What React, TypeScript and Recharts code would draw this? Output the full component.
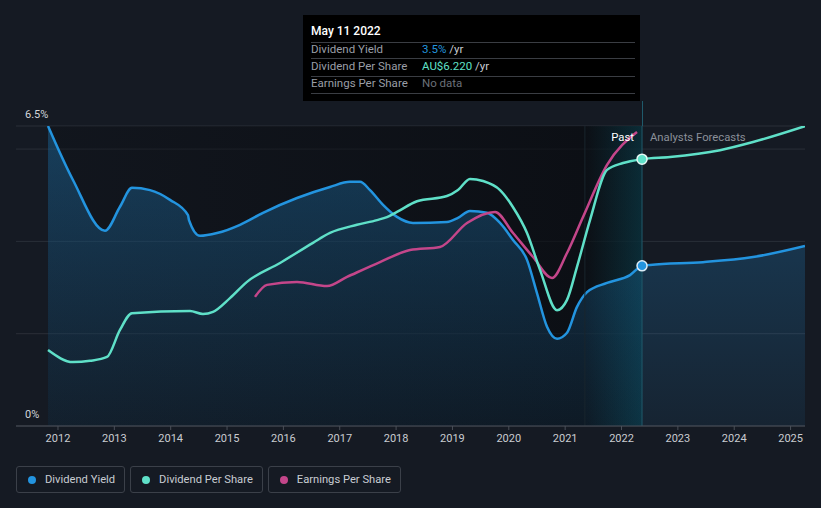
import React from 'react';
import {
  ComposedChart,
  Area,
  Line,
  XAxis,
  YAxis,
  CartesianGrid,
  ReferenceArea,
  ReferenceLine,
} from 'recharts';

// ---- data (time in decimal years) ----
const yieldDates = [
  2011.823, 2012.266, 2012.834, 2013.1, 2013.313, 2013.633, 2013.988, 2014.307, 2014.325, 2014.52,
  2014.822, 2015.23, 2015.638, 2016.241, 2016.827, 2017.182, 2017.359, 2017.537, 2017.768, 2018.016,
  2018.3, 2018.903, 2019.098, 2019.311, 2019.613, 2019.844, 2020.075, 2020.323, 2020.5, 2020.678,
  2020.856, 2021.033, 2021.21, 2021.388, 2021.743, 2022.151, 2022.364, 2022.506, 2023.446, 2024.334,
  2025.256,
];
const yieldValues = [
  6.5, 5.33, 4.23, 4.75, 5.16, 5.11, 4.9, 4.57, 4.46, 4.12,
  4.18, 4.36, 4.62, 4.94, 5.18, 5.29, 5.29, 5.11, 4.79, 4.53,
  4.4, 4.42, 4.51, 4.66, 4.62, 4.4, 4.03, 3.6, 2.88, 2.15,
  1.89, 2.02, 2.58, 2.9, 3.1, 3.27, 3.47, 3.49, 3.55, 3.66,
  3.9,
];

const dpsDates = [
  2011.823, 2012.266, 2012.568, 2012.87, 2013.1, 2013.313, 2014.343, 2014.573, 2014.751, 2015.052,
  2015.354, 2015.94, 2016.525, 2016.827, 2017.306, 2017.661, 2017.838, 2018.016, 2018.371, 2018.903,
  2019.098, 2019.311, 2019.542, 2019.844, 2020.075, 2020.323, 2020.554, 2020.856, 2021.033, 2021.21,
  2021.441, 2021.743, 2022.027, 2022.364, 2022.861, 2023.748, 2024.334, 2025.256,
];
const dpsValues = [
  1.77, 1.49, 1.52, 1.61, 2.24, 2.63, 2.68, 2.61, 2.66, 2.98,
  3.36, 3.8, 4.27, 4.5, 4.69, 4.8, 4.87, 4.99, 5.24, 5.36,
  5.5, 5.76, 5.71, 5.5, 5.1, 4.5, 3.64, 2.7, 2.94, 3.71,
  4.8, 5.97, 6.13, 6.22, 6.27, 6.43, 6.62, 6.99,
];

const epsDates = [
  2015.496, 2015.709, 2016.241, 2016.774, 2017.129, 2017.714, 2018.247, 2018.779, 2019.258, 2019.755,
  2020.075, 2020.43, 2020.767, 2021.033, 2021.317, 2021.743, 2022.275,
];
const epsValues = [
  5.38, 5.88, 6.0, 5.83, 6.21, 6.83, 7.33, 7.46, 8.46, 8.92,
  8.04, 7.04, 6.17, 7.21, 8.71, 10.88, 12.25,
];

const xTicks = [2012, 2013, 2014, 2015, 2016, 2017, 2018, 2019, 2020, 2021, 2022, 2023, 2024, 2025];
const yieldTicks = [0, 2, 4, 6, 6.5];
const yieldLabelValues = [0, 6.5];
const yieldLabelTexts = ['0%', '6.5%'];

const pastStart = 2011.823;
const forecastStart = 2022.364;
const recentStart = 2021.35;

const tooltipDate = 'May 11 2022';
const tooltipRows = [
  { label: 'Dividend Yield', value: '3.5%', color: '#2394df', unit: ' /yr' },
  { label: 'Dividend Per Share', value: 'AU$6.220', color: '#5fe0c8', unit: ' /yr' },
  { label: 'Earnings Per Share', value: 'No data', color: '#6b7079', unit: '' },
];

const legendItems = [
  { label: 'Dividend Yield', color: '#2394df' },
  { label: 'Dividend Per Share', color: '#5fe0c8' },
  { label: 'Earnings Per Share', color: '#c4468a' },
];

const zip = (xs: number[], vs: number[]) => xs.map((x, i) => ({ x, v: vs[i] }));
const yieldData = zip(yieldDates, yieldValues);
const dpsData = zip(dpsDates, dpsValues);
const epsData = zip(epsDates, epsValues);

const FONT = 'Roboto, "Open Sans", "DejaVu Sans", sans-serif';

const makeDot = (fill: string, stroke: string) => (props: any) => {
  const { cx, cy, payload, index } = props;
  if (payload && Math.abs(payload.x - forecastStart) < 1e-6) {
    return <circle key={`d${index}`} cx={cx} cy={cy} r={5} fill={fill} stroke={stroke} strokeWidth={1.5} />;
  }
  return <g key={`d${index}`} />;
};

const makeYLabel = (text: string) => (props: any) => {
  const { viewBox } = props;
  if (!viewBox) return null;
  return (
    <text x={25} y={viewBox.y - 8} fill="#d3d6db" fontSize={11} fontFamily={FONT}>
      {text}
    </text>
  );
};

export default function App() {
  return (
    <div
      style={{
        position: 'absolute',
        left: 0,
        top: 0,
        width: 821,
        height: 508,
        background: '#151a23',
        overflow: 'hidden',
        fontFamily: FONT,
      }}
    >
      <ComposedChart width={821} height={508} margin={{ top: 126, right: 16, left: 16, bottom: 52 }}>
        <defs>
          <linearGradient id="pastGrad" x1="0" y1="0" x2="1" y2="0">
            <stop offset="0%" stopColor="#07090d" stopOpacity={0.25} />
            <stop offset="100%" stopColor="#07090d" stopOpacity={0.68} />
          </linearGradient>
          <linearGradient id="recentGrad" x1="0" y1="0" x2="1" y2="0">
            <stop offset="0%" stopColor="#0a5060" stopOpacity={0} />
            <stop offset="100%" stopColor="#0a5060" stopOpacity={0.45} />
          </linearGradient>
          <linearGradient id="yieldFill" x1="0" y1="0" x2="0" y2="1">
            <stop offset="0%" stopColor="#2394df" stopOpacity={0.32} />
            <stop offset="100%" stopColor="#2394df" stopOpacity={0.08} />
          </linearGradient>
        </defs>
        <XAxis
          dataKey="x"
          type="number"
          domain={[2011.255, 2025.256]}
          ticks={xTicks}
          allowDataOverflow
          height={30}
          tickSize={4}
          tickMargin={4}
          tick={{ fill: '#c9ccd1', fontSize: 11, fontFamily: FONT }}
          tickLine={{ stroke: '#4a4f58' }}
          axisLine={{ stroke: '#4a4f58' }}
        />
        <YAxis yAxisId="yield" type="number" domain={[0, 6.5]} ticks={yieldTicks} hide allowDataOverflow />
        <YAxis yAxisId="dps" type="number" domain={[0, 6.993]} hide allowDataOverflow />
        <YAxis yAxisId="eps" type="number" domain={[0, 12.5]} hide allowDataOverflow />
        <ReferenceArea
          yAxisId="yield"
          x1={pastStart}
          x2={forecastStart}
          y1={0}
          y2={6.5}
          fill="url(#pastGrad)"
          fillOpacity={1}
          stroke="none"
        />
        <ReferenceArea
          yAxisId="yield"
          x1={recentStart}
          x2={forecastStart}
          y1={0}
          y2={6.5}
          fill="url(#recentGrad)"
          fillOpacity={1}
          stroke="none"
        />
        <ReferenceLine yAxisId="yield" x={recentStart} stroke="#18262e" strokeWidth={1} />
        <CartesianGrid yAxisId="yield" vertical={false} stroke="#2a2f38" strokeWidth={1} />
        {yieldLabelValues.map((v, i) => (
          <ReferenceLine
            key={`yl${i}`}
            yAxisId="yield"
            y={v}
            stroke="none"
            label={makeYLabel(yieldLabelTexts[i])}
          />
        ))}
        <ReferenceLine yAxisId="yield" x={forecastStart} stroke="#1f5a6b" strokeWidth={1} />
        <Area
          yAxisId="yield"
          data={yieldData}
          dataKey="v"
          type="monotone"
          stroke="#2394df"
          strokeWidth={2.5}
          fill="url(#yieldFill)"
          fillOpacity={1}
          baseValue={0}
          isAnimationActive={false}
          dot={false}
          activeDot={false}
        />
        <Line
          yAxisId="eps"
          data={epsData}
          dataKey="v"
          type="monotone"
          stroke="#c4468a"
          strokeWidth={2.5}
          dot={false}
          activeDot={false}
          isAnimationActive={false}
        />
        <Line
          yAxisId="dps"
          data={dpsData}
          dataKey="v"
          type="monotone"
          stroke="#5fe0c8"
          strokeWidth={2.5}
          dot={makeDot('#5fe0c8', '#e6f8f5')}
          activeDot={false}
          isAnimationActive={false}
        />
        <Line
          yAxisId="yield"
          data={yieldData}
          dataKey="v"
          type="monotone"
          stroke="none"
          strokeWidth={0}
          dot={makeDot('#2394df', '#dcecf7')}
          activeDot={false}
          isAnimationActive={false}
        />
      </ComposedChart>

      {/* vertical marker continuation above plot */}
      <div style={{ position: 'absolute', left: 642, top: 101, width: 1, height: 25, background: '#1f5a6b' }} />

      {/* past / forecast labels */}
      <div
        style={{
          position: 'absolute',
          right: 821 - 634,
          top: 130,
          fontSize: 11.3,
          lineHeight: '16px',
          color: '#ffffff',
          whiteSpace: 'nowrap',
        }}
      >
        Past
      </div>
      <div
        style={{
          position: 'absolute',
          left: 650,
          top: 130,
          fontSize: 11.3,
          lineHeight: '16px',
          color: '#8b9099',
          whiteSpace: 'nowrap',
        }}
      >
        Analysts Forecasts
      </div>

      {/* tooltip box */}
      <div
        style={{
          position: 'absolute',
          left: 303,
          top: 15,
          width: 337,
          height: 86,
          background: '#000000',
          color: '#fff',
        }}
      >
        <div style={{ position: 'absolute', left: 8, top: 9, fontSize: 12, fontWeight: 500, lineHeight: '15px', color: '#ffffff' }}>
          {tooltipDate}
        </div>
        {[26.7, 43.3, 61, 78.3].map((t, i) => (
          <div key={i} style={{ position: 'absolute', left: 8, top: t, width: 324, height: 1, background: '#3a3d43' }} />
        ))}
        {tooltipRows.map((r, i) => (
          <div
            key={r.label}
            style={{ position: 'absolute', left: 0, top: 27 + i * 17.2, height: 15, width: 337, fontSize: 11.5, lineHeight: '15px' }}
          >
            <span style={{ position: 'absolute', left: 8, color: '#9a9ea6' }}>{r.label}</span>
            <span style={{ position: 'absolute', left: 119, whiteSpace: 'pre' }}>
              <span style={{ color: r.color }}>{r.value}</span>
              <span style={{ color: '#c8ccd2' }}>{r.unit}</span>
            </span>
          </div>
        ))}
      </div>

      {/* legend */}
      <div style={{ position: 'absolute', left: 16, top: 466, display: 'flex', gap: 5 }}>
        {legendItems.map((it) => (
          <div
            key={it.label}
            style={{
              height: 25,
              border: '1px solid #3b4049',
              borderRadius: 3,
              display: 'flex',
              alignItems: 'center',
              padding: '0 9px 0 11px',
              fontSize: 11.2,
              color: '#c8ccd2',
              boxSizing: 'content-box',
            }}
          >
            <span
              style={{ width: 8, height: 8, borderRadius: 4, background: it.color, display: 'inline-block', marginRight: 9 }}
            />
            {it.label}
          </div>
        ))}
      </div>
    </div>
  );
}
